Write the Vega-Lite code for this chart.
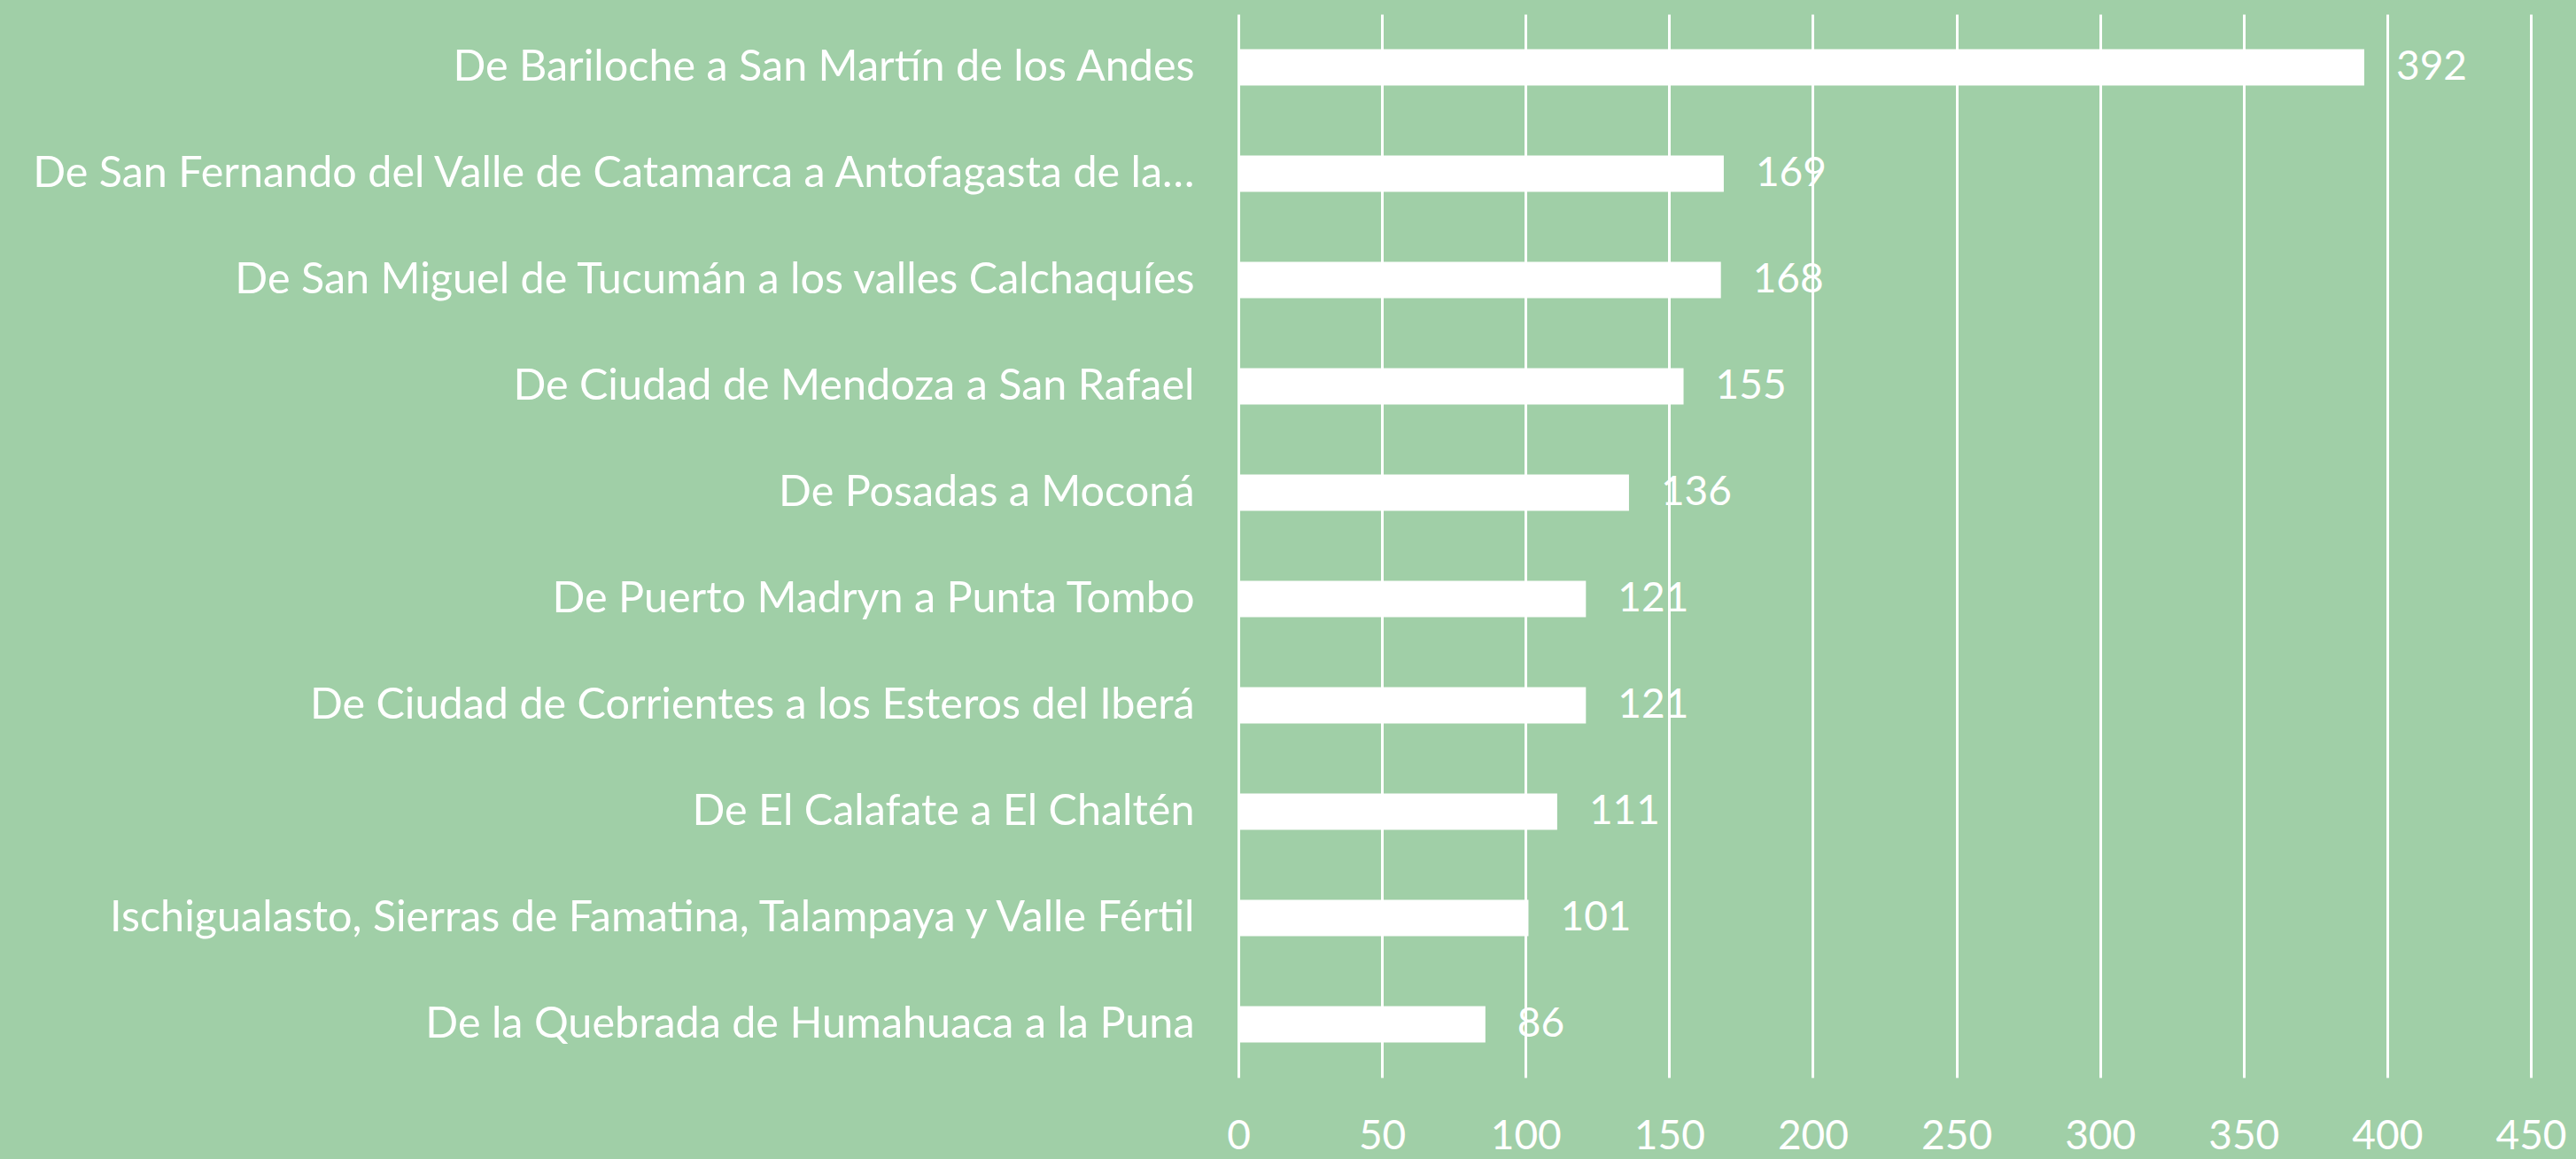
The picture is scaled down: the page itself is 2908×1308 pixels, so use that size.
{
  "$schema": "https://vega.github.io/schema/vega-lite/v6.json",
  "width": 1459,
  "height": 1200,
  "autosize": {"type": "none"},
  "padding": {"left": 1398, "top": 16, "right": 51, "bottom": 92},
  "background": "#A0CFA7",
  "config": {
    "view": {"stroke": null},
    "font": "Lato"
  },
  "data": {
    "values": [
      {"ruta": "De Bariloche a San Martín de los Andes", "valor": 392},
      {"ruta": "De San Fernando del Valle de Catamarca a Antofagasta de la…", "valor": 169},
      {"ruta": "De San Miguel de Tucumán a los valles Calchaquíes", "valor": 168},
      {"ruta": "De Ciudad de Mendoza a San Rafael", "valor": 155},
      {"ruta": "De Posadas a Moconá", "valor": 136},
      {"ruta": "De Puerto Madryn a Punta Tombo", "valor": 121},
      {"ruta": "De Ciudad de Corrientes a los Esteros del Iberá", "valor": 121},
      {"ruta": "De El Calafate a El Chaltén", "valor": 111},
      {"ruta": "Ischigualasto, Sierras de Famatina, Talampaya y Valle Fértil", "valor": 101},
      {"ruta": "De la Quebrada de Humahuaca a la Puna", "valor": 86}
    ]
  },
  "encoding": {
    "y": {
      "field": "ruta",
      "type": "nominal",
      "sort": null,
      "title": null,
      "scale": {"paddingInner": 0.66, "paddingOuter": 0.33},
      "axis": {
        "domain": false,
        "ticks": false,
        "grid": false,
        "labelColor": "#FFFFFF",
        "labelFontSize": 48.5,
        "labelFont": "Lato",
        "labelPadding": 50,
        "labelLimit": 2000
      }
    },
    "x": {
      "field": "valor",
      "type": "quantitative",
      "title": null,
      "scale": {"domain": [0, 450], "nice": false},
      "axis": {
        "values": [0, 50, 100, 150, 200, 250, 300, 350, 400, 450],
        "domain": false,
        "ticks": false,
        "grid": true,
        "gridColor": "#FFFFFF",
        "gridWidth": 3,
        "gridOpacity": 1,
        "labelColor": "#FFFFFF",
        "labelFontSize": 46,
        "labelFont": "Lato",
        "labelPadding": 44,
        "labelFlush": false
      }
    }
  },
  "layer": [
    {"mark": {"type": "bar", "color": "#FFFFFF"}},
    {
      "mark": {"type": "text", "align": "left", "baseline": "middle", "dx": 36, "color": "#FFFFFF", "fontSize": 46, "font": "Lato"},
      "encoding": {"text": {"field": "valor", "type": "quantitative"}}
    }
  ]
}
